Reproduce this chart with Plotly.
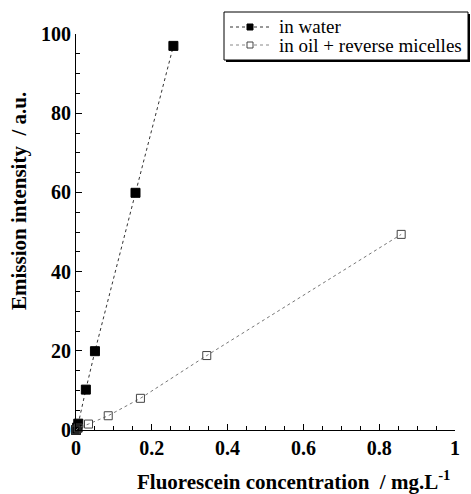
import plotly.graph_objects as go

water_x = [0.0, 0.003, 0.006, 0.026, 0.05, 0.157, 0.257]
water_y = [0.0, 0.6, 1.6, 10.2, 19.9, 59.9, 97.0]
oil_x = [0.0, 0.006, 0.033, 0.085, 0.17, 0.345, 0.858]
oil_y = [0.0, 0.5, 1.5, 3.6, 8.0, 18.8, 49.4]
series_names = ["in water", "in oil + reverse micelles"]
x_title = "Fluorescein concentration &nbsp;/ mg.L<sup>-1</sup>"
y_title = "Emission intensity &nbsp;/ a.u."

FONT = "Liberation Serif"
W, H = 471, 494
L, R, T, B = 76, 16, 34, 64
PW, PH = W - L - R, H - T - B


def px(x):
    return (x - L) / PW


def py(y):
    return (H - B - y) / PH


fig = go.Figure()
fig.add_trace(go.Scatter(
    x=water_x, y=water_y, mode="lines+markers", name=series_names[0],
    line=dict(color="#333333", width=1, dash="dot"),
    marker=dict(symbol="square", size=9, color="black", line=dict(color="black", width=1)),
    cliponaxis=False, showlegend=False))
fig.add_trace(go.Scatter(
    x=oil_x, y=oil_y, mode="lines+markers", name=series_names[1],
    line=dict(color="#777777", width=1, dash="dot"),
    marker=dict(symbol="square-open", size=8, color="#444444", line=dict(width=1)),
    cliponaxis=False, showlegend=False))

shapes = []
annotations = []
# legend box with shadow
shapes.append(dict(type="rect", xref="paper", yref="paper",
                   x0=px(226), x1=px(470), y0=py(14), y1=py(62),
                   fillcolor="black", line=dict(width=0), layer="above"))
shapes.append(dict(type="rect", xref="paper", yref="paper",
                   x0=px(224), x1=px(468), y0=py(12), y1=py(60),
                   fillcolor="white", line=dict(color="black", width=1), layer="above"))
rows = [(27, "#333333", "black", "black"), (45, "#888888", "white", "#444444")]
for (yy, lc, fc, mc), name in zip(rows, series_names):
    shapes.append(dict(type="line", xref="paper", yref="paper",
                       x0=px(230), x1=px(272), y0=py(yy), y1=py(yy),
                       line=dict(color=lc, width=1, dash="dot"), layer="above"))
    shapes.append(dict(type="rect", xref="paper", yref="paper",
                       x0=px(247), x1=px(253), y0=py(yy - 3), y1=py(yy + 3),
                       fillcolor=fc, line=dict(color=mc, width=1), layer="above"))
    annotations.append(dict(xref="paper", yref="paper", x=px(277), y=py(yy),
                            xanchor="left", yanchor="middle", showarrow=False,
                            text=name, font=dict(family=FONT, size=19, color="black")))

# axis titles (offset from plot centre as in the reference)
annotations.append(dict(xref="paper", yref="paper", x=px(293), y=py(480),
                        xanchor="center", yanchor="middle", showarrow=False,
                        text=x_title, font=dict(family=FONT, size=21, weight="bold")))
annotations.append(dict(xref="paper", yref="paper", x=px(19), y=py(201),
                        xanchor="center", yanchor="middle", showarrow=False, textangle=-90,
                        text=y_title, font=dict(family=FONT, size=21, weight="bold")))

fig.update_layout(
    width=W, height=H,
    margin=dict(l=L, r=R, t=T, b=B),
    plot_bgcolor="white", paper_bgcolor="white",
    font=dict(family=FONT, color="black"),
    showlegend=False,
    shapes=shapes, annotations=annotations,
    xaxis=dict(range=[0, 1], dtick=0.2, tickformat="~g", automargin=False,
               showgrid=False, zeroline=False, showline=True,
               linecolor="black", linewidth=1,
               ticks="inside", ticklen=6, tickcolor="black",
               minor=dict(ticks="inside", dtick=0.05, ticklen=4, tickcolor="black"),
               tickfont=dict(family=FONT, size=20, weight="bold")),
    yaxis=dict(range=[0, 100], dtick=20, automargin=False,
               showgrid=False, zeroline=False, showline=True,
               linecolor="black", linewidth=1,
               ticks="inside", ticklen=6, tickcolor="black",
               minor=dict(ticks="inside", dtick=5, ticklen=4, tickcolor="black"),
               tickfont=dict(family=FONT, size=20, weight="bold")),
)

fig.write_html("out.html")
